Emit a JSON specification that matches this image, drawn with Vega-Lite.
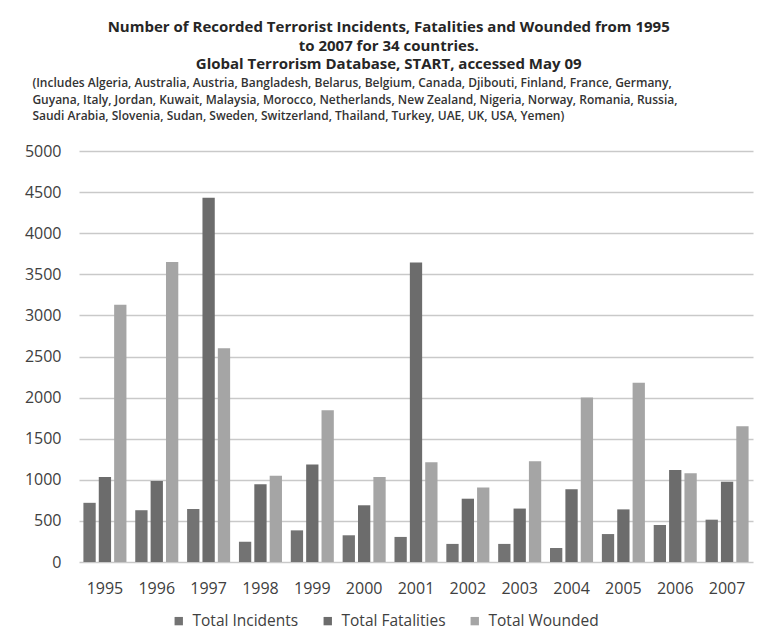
{
  "$schema": "https://vega.github.io/schema/vega-lite/v6.json",
  "background": "white",
  "padding": {"top": 20, "left": 24, "right": 6, "bottom": 4},
  "title": {
    "text": [
      "Number of  Recorded Terrorist Incidents, Fatalities and Wounded from 1995",
      "to 2007 for 34 countries.",
      "Global Terrorism Database, START, accessed May 09"
    ],
    "font": "Open Sans",
    "fontSize": 15,
    "fontWeight": "bold",
    "color": "#262626",
    "lineHeight": 18.5,
    "anchor": "middle",
    "offset": 5
  },
  "vconcat": [
    {
      "title": {
        "text": [
          "(Includes Algeria, Australia, Austria, Bangladesh, Belarus, Belgium, Canada, Djibouti, Finland, France, Germany,",
          "Guyana, Italy, Jordan, Kuwait, Malaysia, Morocco, Netherlands, New Zealand, Nigeria, Norway, Romania, Russia,",
          "Saudi Arabia, Slovenia, Sudan, Sweden, Switzerland, Thailand, Turkey, UAE, UK, USA, Yemen)"
        ],
        "font": "Open Sans",
        "fontSize": 12,
        "fontWeight": 600,
        "color": "#333333",
        "lineHeight": 16.5,
        "anchor": "start",
        "frame": "bounds",
        "dx": 8,
        "offset": 20
      },
      "width": 674,
      "height": 411,
      "data": {
        "values": [
          {"year": "1995", "series": "Total Incidents", "value": 720},
          {"year": "1995", "series": "Total Fatalities", "value": 1035},
          {"year": "1995", "series": "Total Wounded", "value": 3130},
          {"year": "1996", "series": "Total Incidents", "value": 630},
          {"year": "1996", "series": "Total Fatalities", "value": 985},
          {"year": "1996", "series": "Total Wounded", "value": 3650},
          {"year": "1997", "series": "Total Incidents", "value": 645},
          {"year": "1997", "series": "Total Fatalities", "value": 4430},
          {"year": "1997", "series": "Total Wounded", "value": 2600},
          {"year": "1998", "series": "Total Incidents", "value": 245},
          {"year": "1998", "series": "Total Fatalities", "value": 945},
          {"year": "1998", "series": "Total Wounded", "value": 1050},
          {"year": "1999", "series": "Total Incidents", "value": 385},
          {"year": "1999", "series": "Total Fatalities", "value": 1185},
          {"year": "1999", "series": "Total Wounded", "value": 1845},
          {"year": "2000", "series": "Total Incidents", "value": 325},
          {"year": "2000", "series": "Total Fatalities", "value": 690},
          {"year": "2000", "series": "Total Wounded", "value": 1035},
          {"year": "2001", "series": "Total Incidents", "value": 305},
          {"year": "2001", "series": "Total Fatalities", "value": 3645},
          {"year": "2001", "series": "Total Wounded", "value": 1215},
          {"year": "2002", "series": "Total Incidents", "value": 220},
          {"year": "2002", "series": "Total Fatalities", "value": 770},
          {"year": "2002", "series": "Total Wounded", "value": 905},
          {"year": "2003", "series": "Total Incidents", "value": 220},
          {"year": "2003", "series": "Total Fatalities", "value": 650},
          {"year": "2003", "series": "Total Wounded", "value": 1225},
          {"year": "2004", "series": "Total Incidents", "value": 170},
          {"year": "2004", "series": "Total Fatalities", "value": 885},
          {"year": "2004", "series": "Total Wounded", "value": 2000},
          {"year": "2005", "series": "Total Incidents", "value": 340},
          {"year": "2005", "series": "Total Fatalities", "value": 640},
          {"year": "2005", "series": "Total Wounded", "value": 2180},
          {"year": "2006", "series": "Total Incidents", "value": 450},
          {"year": "2006", "series": "Total Fatalities", "value": 1120},
          {"year": "2006", "series": "Total Wounded", "value": 1080},
          {"year": "2007", "series": "Total Incidents", "value": 515},
          {"year": "2007", "series": "Total Fatalities", "value": 975},
          {"year": "2007", "series": "Total Wounded", "value": 1650}
        ]
      },
      "mark": {"type": "bar"},
      "encoding": {
        "x": {
          "field": "year",
          "type": "nominal",
          "scale": {"paddingInner": 0.17, "paddingOuter": 0.085},
          "axis": {"labelAngle": 0, "labelPadding": 18, "grid": false}
        },
        "xOffset": {
          "field": "series",
          "type": "nominal",
          "sort": ["Total Incidents", "Total Fatalities", "Total Wounded"],
          "scale": {"paddingInner": 0.2, "paddingOuter": 0}
        },
        "y": {
          "field": "value",
          "type": "quantitative",
          "scale": {"domain": [0, 5000], "nice": false},
          "axis": {
            "values": [0, 500, 1000, 1500, 2000, 2500, 3000, 3500, 4000, 4500, 5000],
            "format": "d",
            "labelPadding": 18,
            "grid": true
          }
        },
        "color": {
          "field": "series",
          "type": "nominal",
          "sort": ["Total Incidents", "Total Fatalities", "Total Wounded"],
          "scale": {
            "domain": ["Total Incidents", "Total Fatalities", "Total Wounded"],
            "range": ["#737373", "#6c6c6c", "#a5a5a5"]
          },
          "legend": {
            "orient": "none",
            "legendX": 92,
            "legendY": 462,
            "direction": "horizontal",
            "title": null
          }
        }
      }
    }
  ],
  "config": {
    "view": {"stroke": null},
    "axis": {
      "title": null,
      "ticks": false,
      "domain": false,
      "labelFont": "Open Sans",
      "labelFontSize": 16,
      "labelColor": "#404040",
      "gridColor": "#c9c9c9",
      "gridWidth": 1.5
    },
    "legend": {
      "symbolType": "square",
      "symbolSize": 70,
      "symbolStrokeWidth": 0,
      "labelFont": "Open Sans",
      "labelFontSize": 15.5,
      "labelColor": "#404040",
      "labelOffset": 6,
      "columnPadding": 21
    }
  }
}
